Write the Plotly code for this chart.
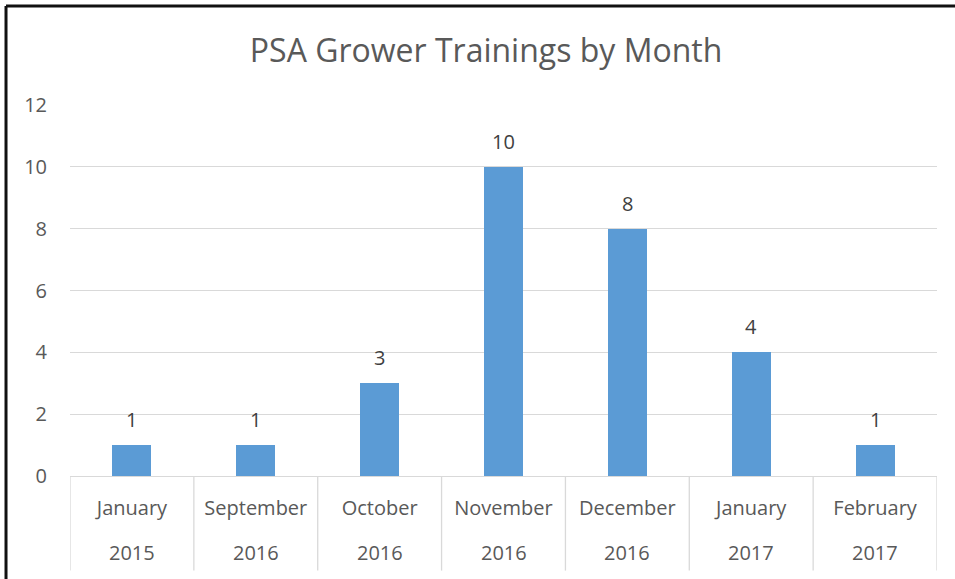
import plotly.graph_objects as go

months = ["January", "September", "October", "November", "December", "January", "February"]
years = ["2015", "2016", "2016", "2016", "2016", "2017", "2017"]
trainings = [1, 1, 3, 10, 8, 4, 1]
y_ticks = [0, 2, 4, 6, 8, 10, 12]

cat_idx = list(range(len(months)))

TXT = "#595959"
GRID = "#d9d9d9"
FONT = "Open Sans"

fig = go.Figure()
fig.add_trace(go.Bar(
    x=cat_idx, y=trainings, width=0.315,
    marker=dict(color="#5B9BD5", line=dict(width=0)),
    hoverinfo="skip",
))

annotations = []
for i, v in zip(cat_idx, trainings):
    annotations.append(dict(x=i, y=v, xref="x", yref="y", text=str(v),
                            showarrow=False, yanchor="bottom", yshift=10,
                            font=dict(family=FONT, size=20, color="#404040")))
for i, yr in zip(cat_idx, years):
    annotations.append(dict(x=i, y=-0.2075, xref="x", yref="paper", text=yr,
                            showarrow=False, yanchor="middle",
                            font=dict(family=FONT, size=20, color=TXT)))

shapes = []
for i in range(len(months) + 1):
    shapes.append(dict(type="line", xref="x", yref="paper",
                       x0=i - 0.5, x1=i - 0.5, y0=0, y1=-0.255,
                       line=dict(color=GRID, width=1.3)))
# outer black border (top and left)
shapes.append(dict(type="line", xref="paper", yref="paper",
                   x0=-0.0738, x1=1.1, y0=1.267, y1=1.267,
                   line=dict(color="#111111", width=3)))
shapes.append(dict(type="line", xref="paper", yref="paper",
                   x0=-0.0738, x1=-0.0738, y0=1.267, y1=-0.4,
                   line=dict(color="#111111", width=3)))

fig.update_layout(
    width=955, height=579,
    margin=dict(l=70, r=18, t=105, b=103),
    paper_bgcolor="white", plot_bgcolor="white",
    showlegend=False,
    title=dict(text="PSA Grower Trainings by Month", x=0.509, xanchor="center",
               y=0.912, yanchor="middle",
               font=dict(family=FONT, size=32, color=TXT)),
    bargap=0,
    shapes=shapes,
    annotations=annotations,
    xaxis=dict(
        range=[-0.5, len(months) - 0.5],
        tickmode="array", tickvals=cat_idx, ticktext=months,
        tickfont=dict(family=FONT, size=20, color=TXT),
        showgrid=False, zeroline=False,
        showline=True, linecolor=GRID, linewidth=1.3,
        ticks="", ticklabelstandoff=14,
    ),
    yaxis=dict(
        range=[0, 12], tickmode="array", tickvals=y_ticks,
        tickfont=dict(family=FONT, size=20, color=TXT),
        showgrid=True, gridcolor=GRID, gridwidth=1.3,
        zeroline=False, showline=False, ticks="",
        ticklabelstandoff=22,
    ),
)

fig.write_html("out.html",
               config={"displayModeBar": False},
               post_script="document.body.style.margin='0';document.body.style.padding='0';")
